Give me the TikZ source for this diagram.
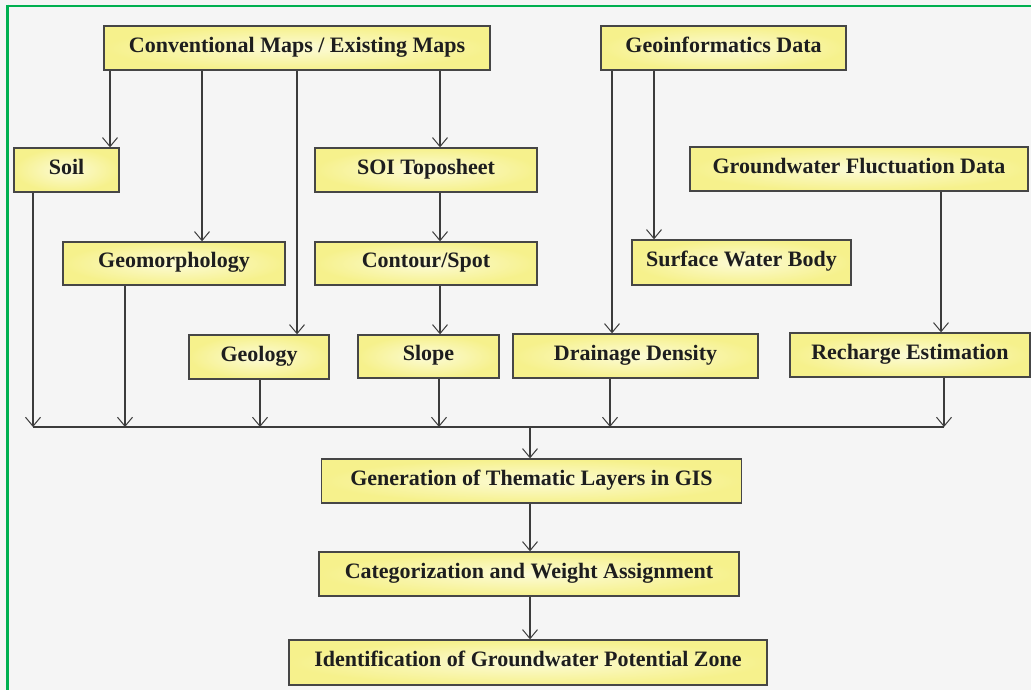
\documentclass[tikz,border=0pt]{standalone}
\usepackage{fontspec}
\setmainfont{Liberation Serif}
\usetikzlibrary{arrows.meta,calc}
\definecolor{bg}{RGB}{245,245,245}
\definecolor{grn}{RGB}{0,176,80}
\definecolor{boxline}{RGB}{70,70,70}
\definecolor{ylo}{RGB}{246,241,140}
\definecolor{ylin}{RGB}{252,251,215}
\definecolor{txt}{RGB}{30,30,30}
\definecolor{ln}{RGB}{60,60,60}
\tikzset{
  box/.style={draw=boxline, line width=1.3pt, inner color=ylin, outer color=ylo,
    minimum height=44pt, inner sep=0pt, text=txt,
    font=\fontsize{22}{25}\selectfont\bfseries, text height=14.5pt, text depth=6pt},
  arr/.style={draw=ln, line width=1.1pt, -{Straight Barb[length=9pt,width=15pt,line width=1pt]}},
  ln/.style={draw=ln, line width=1.1pt}
}
\begin{document}
\begin{tikzpicture}[x=1pt,y=-1pt]
\fill[bg] (0,0) rectangle (1031,690);
\useasboundingbox (0,0) rectangle (1031,690);
\draw[grn, line width=2.6pt] (6.5,6) -- (1031,6);
\draw[grn, line width=2.6pt] (7.5,4.7) -- (7.5,690);

\node[box, minimum width=386pt] (conv) at (297,48) {Conventional Maps / Existing Maps};
\node[box, minimum width=245pt] (geo) at (723.5,48) {Geoinformatics Data};
\node[box, minimum width=105pt] (soil) at (66.5,170) {Soil};
\node[box, minimum width=222pt] (soi) at (426,170) {SOI Toposheet};
\node[box, minimum width=338pt] (gwf) at (859,169) {Groundwater Fluctuation Data};
\node[box, minimum width=222pt, minimum height=43pt] (geom) at (174,263.5) {Geomorphology};
\node[box, minimum width=222pt, minimum height=43pt] (cont) at (426,263.5) {Contour/Spot};
\node[box, minimum width=219pt, minimum height=45pt] (swb) at (741.5,262.5) {Surface Water Body};
\node[box, minimum width=140pt] (geol) at (259,357) {Geology};
\node[box, minimum width=141pt, minimum height=43pt] (slope) at (428.5,356.5) {Slope};
\node[box, minimum width=245pt] (drain) at (635.5,356) {Drainage Density};
\node[box, minimum width=240pt] (rech) at (910,355) {Recharge Estimation};
\node[box, minimum width=420pt] (gen) at (531.5,481) {Generation of Thematic Layers in GIS};
\node[box, minimum width=420pt] (cat) at (529,574) {Categorization and Weight Assignment};
\node[box, minimum width=478pt, minimum height=45pt] (iden) at (528,662.5) {Identification of Groundwater Potential Zone};

% x positions of connectors
\coordinate (xa) at (110,0);
\coordinate (xb) at (202,0);
\coordinate (xc) at (297,0);
\coordinate (xd) at (440,0);
\coordinate (xe) at (612,0);
\coordinate (xf) at (654,0);
\coordinate (xg) at (941,0);
\coordinate (bSoil) at (33,427);
\coordinate (bGeom) at (125,427);
\coordinate (bGeol) at (260,427);
\coordinate (bSlope) at (439,427);
\coordinate (bDrain) at (610,427);
\coordinate (bRech) at (944,427);
\coordinate (bMid) at (530,427);

\draw[arr] (conv.south -| xa) -- (soil.north -| xa);
\draw[arr] (conv.south -| xb) -- (geom.north -| xb);
\draw[arr] (conv.south -| xc) -- (geol.north -| xc);
\draw[arr] (conv.south -| xd) -- (soi.north -| xd);
\draw[arr] (soi.south -| xd) -- (cont.north -| xd);
\draw[arr] (cont.south -| xd) -- (slope.north -| xd);
\draw[arr] (geo.south -| xe) -- (drain.north -| xe);
\draw[arr] (geo.south -| xf) -- (swb.north -| xf);
\draw[arr] (gwf.south -| xg) -- (rech.north -| xg);

\draw[arr] (soil.south -| bSoil) -- (bSoil);
\draw[arr] (geom.south -| bGeom) -- (bGeom);
\draw[arr] (geol.south -| bGeol) -- (bGeol);
\draw[arr] (slope.south -| bSlope) -- (bSlope);
\draw[arr] (drain.south -| bDrain) -- (bDrain);
\draw[arr] (rech.south -| bRech) -- (bRech);
\draw[ln] (bSoil) -- (bRech);
\draw[arr] (bMid) -- (gen.north -| bMid);
\draw[arr] (gen.south -| bMid) -- (cat.north -| bMid);
\draw[arr] (cat.south -| bMid) -- (iden.north -| bMid);
\end{tikzpicture}
\end{document}
